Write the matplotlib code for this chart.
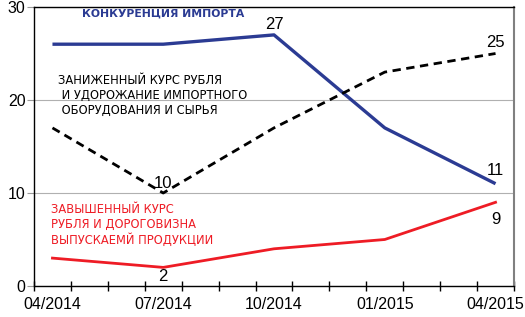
import matplotlib.pyplot as plt
import numpy as np

plt.rcParams['font.family'] = ['Liberation Sans', 'DejaVu Sans']

# month index from 04/2014 (0) to 04/2015 (12), quarterly survey points
months = [0, 3, 6, 9, 12]
month_labels = ["04/2014", "07/2014", "10/2014", "01/2015", "04/2015"]

import_competition = [26, 26, 27, 17, 11]
weak_ruble = [17, 10, 17, 23, 25]
strong_ruble = [3, 2, 4, 5, 9]

blue = "#2b3b93"
red = "#ee1c25"

fig = plt.figure(figsize=(5.25, 3.17), dpi=100)
ax = fig.add_axes([34 / 525, 31 / 317, 480 / 525, 279 / 317])

ax.plot(months, import_competition, color=blue, lw=2.4, solid_capstyle="butt")
ax.plot(months, weak_ruble, color="black", lw=2.0, ls=(0, (3, 2)))
ax.plot(months, strong_ruble, color=red, lw=2.0)

ax.set_xlim(-0.5, 12.5)
ax.set_ylim(0, 30)

ax.set_xticks(months)
ax.set_xticklabels(month_labels, fontsize=11.5)
ax.tick_params(axis="x", which="major", length=0, pad=8)
ax.set_xticks(np.arange(-0.5, 13, 1), minor=True)
ax.tick_params(axis="x", which="minor", length=7, direction="inout", width=1)

ax.set_yticks([0, 10, 20, 30])
ax.set_yticklabels(["0", "10", "20", "30"], fontsize=11.5)
ax.tick_params(axis="y", length=5, color="#999999", pad=1)
ax.grid(axis="y", color="#b0b0b0", lw=0.8)

for side in ["left", "bottom", "top"]:
    ax.spines[side].set_color("black")
    ax.spines[side].set_linewidth(1.0)
ax.spines["right"].set_color("#808080")
ax.spines["right"].set_linewidth(1.5)

# data labels
lab = dict(fontsize=12)
ax.text(6, 27.3, "27", ha="center", va="bottom", **lab)
ax.text(12, 25.4, "25", ha="center", va="bottom", **lab)
ax.text(3, 10.2, "10", ha="center", va="bottom", **lab)
ax.text(3, 1.8, "2", ha="center", va="top", **lab)
ax.text(12, 11.6, "11", ha="center", va="bottom", **lab)
ax.text(12, 8.0, "9", ha="center", va="top", **lab)

# series captions
cap = dict(family="DejaVu Sans", fontsize=8.3, ha="left")
ax.text(0.8, 29.35, "КОНКУРЕНЦИЯ ИМПОРТА", color=blue, fontweight="bold",
        va="center", family="DejaVu Sans", fontsize=7.8, ha="left")
ax.text(0.15, 22.8, "ЗАНИЖЕННЫЙ КУРС РУБЛЯ\n И УДОРОЖАНИЕ ИМПОРТНОГО\n ОБОРУДОВАНИЯ И СЫРЬЯ",
        color="black", va="top", linespacing=1.2, **cap)
ax.text(-0.05, 8.9, "ЗАВЫШЕННЫЙ КУРС\nРУБЛЯ И ДОРОГОВИЗНА\nВЫПУСКАЕМЙ ПРОДУКЦИИ",
        color=red, va="top", linespacing=1.2, **cap)

fig.savefig("out.png", dpi=100)
